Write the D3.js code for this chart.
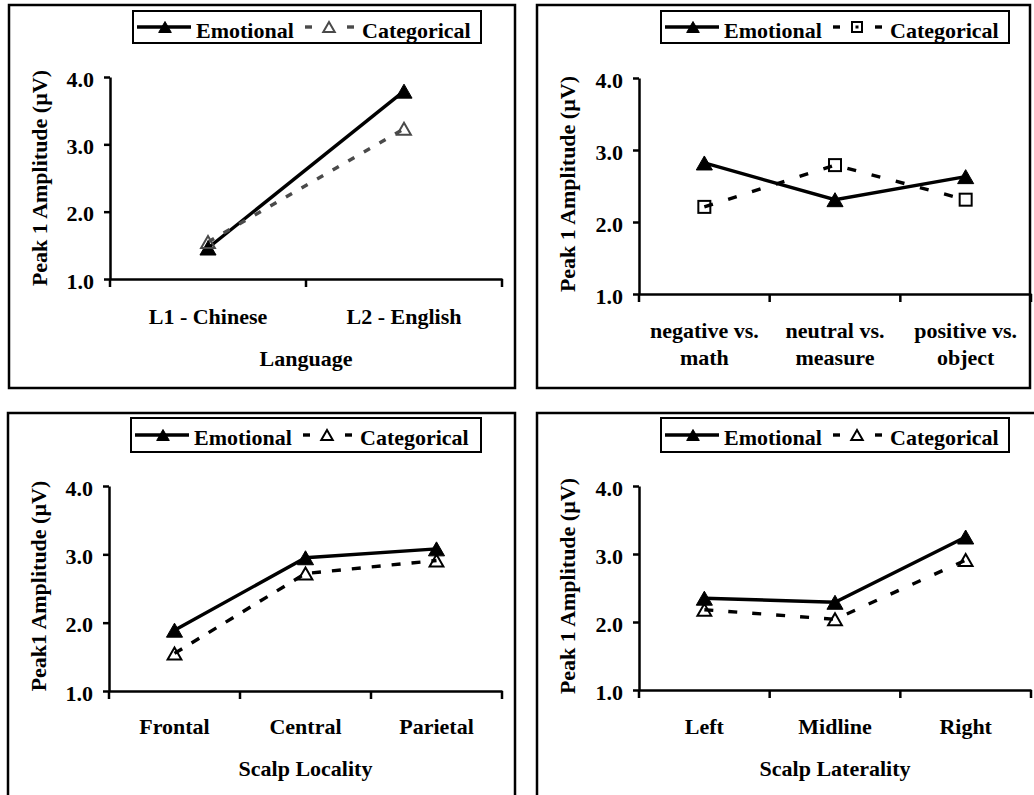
<!DOCTYPE html>
<html>
<head>
<meta charset="utf-8">
<script src="https://cdn.jsdelivr.net/npm/d3@7"></script>
<style>
  html, body { margin: 0; padding: 0; background: #fff; }
  svg { display: block; font-family: "Liberation Serif", "Times New Roman", serif; font-weight: bold; }
</style>
</head>
<body>
<svg id="chart" width="1034" height="795"></svg>
<script>
// Peak 1 amplitude (µV), emotional vs. categorical conditions
const languageCategories = ["L1 - Chinese", "L2 - English"];
const languageEmotional = [1.46, 3.79];
const languageCategorical = [1.55, 3.23];

const contrastCategories = ["negative vs.|math", "neutral vs.|measure", "positive vs.|object"];
const contrastEmotional = [2.82, 2.31, 2.63];
const contrastCategorical = [2.21, 2.79, 2.31];

const localityCategories = ["Frontal", "Central", "Parietal"];
const localityEmotional = [1.89, 2.95, 3.08];
const localityCategorical = [1.55, 2.72, 2.91];

const lateralityCategories = ["Left", "Midline", "Right"];
const lateralityEmotional = [2.35, 2.29, 3.25];
const lateralityCategorical = [2.18, 2.04, 2.91];

const amplitudeTicks = [1.0, 2.0, 3.0, 4.0];
const seriesNames = ["Emotional", "Categorical"];

const panels = [
  {
    cats: languageCategories, emo: languageEmotional, cat: languageCategorical,
    title: "Language", yTitle: "Peak 1 Amplitude (\u00B5V)", marker: "triangle",
    frame: [9, 5, 515, 388], x0: 110, x1: 502, yTop: 77, yBottom: 279,
    legend: [133, 11, 481, 43], yTitleX: 47, yTitleY: 178,
    tickBaseline: 324, titleBaseline: 366, catColor: "#4a4a4a", dash: "7,11"
  },
  {
    cats: contrastCategories, emo: contrastEmotional, cat: contrastCategorical,
    title: null, yTitle: "Peak 1 Amplitude (\u00B5V)", marker: "square",
    frame: [537, 5, 1030, 388], x0: 639, x1: 1031, yTop: 78, yBottom: 294,
    legend: [661, 11, 1009, 43], yTitleX: 575, yTitleY: 184,
    tickBaseline: 338, titleBaseline: null, catColor: "#000", dash: "9,16"
  },
  {
    cats: localityCategories, emo: localityEmotional, cat: localityCategorical,
    title: "Scalp Locality", yTitle: "Peak1 Amplitude (\u00B5V)", marker: "triangle",
    frame: [8, 413, 515, 820], x0: 109, x1: 502, yTop: 486, yBottom: 691,
    legend: [131, 418, 481, 452], yTitleX: 46, yTitleY: 586,
    tickBaseline: 734, titleBaseline: 776, catColor: "#000", dash: "9,11"
  },
  {
    cats: lateralityCategories, emo: lateralityEmotional, cat: lateralityCategorical,
    title: "Scalp Laterality", yTitle: "Peak 1 Amplitude (\u00B5V)", marker: "triangle",
    frame: [537, 413, 1050, 820], x0: 639, x1: 1031, yTop: 486, yBottom: 690,
    legend: [661, 418, 1009, 452], yTitleX: 575, yTitleY: 586,
    tickBaseline: 734, titleBaseline: 776, catColor: "#000", dash: "9,15"
  }
];

const FONT = 22;
const svg = d3.select("#chart");

// Triangle path centred on (cx, cy) by its bounding box
function trianglePath(cx, cy, w, h) {
  return `M${cx},${cy - h / 2}L${cx + w / 2},${cy + h / 2}L${cx - w / 2},${cy + h / 2}Z`;
}

function drawMarker(g, type, cx, cy, filled, color, size) {
  if (type === "square") {
    g.append("rect")
      .attr("x", cx - size / 2).attr("y", cy - size / 2)
      .attr("width", size).attr("height", size)
      .attr("fill", filled ? color : "none")
      .attr("stroke", color).attr("stroke-width", 2);
  } else {
    g.append("path")
      .attr("d", trianglePath(cx, cy, size * 1.15, size))
      .attr("fill", filled ? color : "none")
      .attr("stroke", color).attr("stroke-width", filled ? 1 : 2)
      .attr("stroke-linejoin", "miter");
  }
}

panels.forEach(p => {
  const g = svg.append("g");

  // panel frame
  const [fx0, fy0, fx1, fy1] = p.frame;
  g.append("rect")
    .attr("x", fx0).attr("y", fy0)
    .attr("width", fx1 - fx0).attr("height", fy1 - fy0)
    .attr("fill", "none").attr("stroke", "#000").attr("stroke-width", 2.5);

  const x = d3.scaleBand().domain(p.cats).range([p.x0, p.x1]).padding(0);
  const y = d3.scaleLinear().domain([1, 4]).range([p.yBottom, p.yTop]);
  const cx = c => x(c) + x.bandwidth() / 2;

  // y axis
  const yAxis = g.append("g")
    .attr("transform", `translate(${p.x0},0)`)
    .call(d3.axisLeft(y).tickValues(amplitudeTicks).tickFormat(d3.format(".1f"))
      .tickSize(6).tickSizeOuter(0).tickPadding(10))
    .attr("font-family", null).attr("font-size", FONT);
  yAxis.select(".domain").attr("stroke", "#000").attr("stroke-width", 2.5);
  yAxis.selectAll(".tick line").attr("stroke", "#000").attr("stroke-width", 2.5);
  yAxis.selectAll(".tick text").attr("fill", "#000").attr("dy", "0.42em");

  // x axis line with ticks at category boundaries
  const xAxis = g.append("g")
    .attr("transform", `translate(0,${p.yBottom})`)
    .call(d3.axisBottom(x).tickSize(0).tickSizeOuter(0).tickFormat(""));
  xAxis.select(".domain").attr("stroke", "#000").attr("stroke-width", 2.5);
  xAxis.selectAll(".tick").remove();
  const bounds = p.cats.map(c => x(c)).concat([p.x1]);
  xAxis.selectAll("line.bound").data(bounds).enter().append("line")
    .attr("class", "bound")
    .attr("x1", d => d).attr("x2", d => d)
    .attr("y1", 0).attr("y2", 8)
    .attr("stroke", "#000").attr("stroke-width", 2.5);

  // category labels (may span two lines)
  p.cats.forEach(c => {
    const lines = c.split("|");
    const t = g.append("text")
      .attr("x", cx(c)).attr("y", p.tickBaseline)
      .attr("text-anchor", "middle").attr("font-size", FONT).attr("fill", "#000");
    lines.forEach((ln, i) => {
      t.append("tspan").attr("x", cx(c)).attr("dy", i === 0 ? 0 : 27).text(ln);
    });
  });

  // axis titles
  if (p.title) {
    g.append("text")
      .attr("x", (p.x0 + p.x1) / 2).attr("y", p.titleBaseline)
      .attr("text-anchor", "middle").attr("font-size", FONT).attr("fill", "#000")
      .text(p.title);
  }
  g.append("text")
    .attr("transform", `translate(${p.yTitleX},${p.yTitleY}) rotate(-90)`)
    .attr("text-anchor", "middle").attr("font-size", 22).attr("fill", "#000")
    .text(p.yTitle);

  // series lines
  const line = d3.line().x((d, i) => cx(p.cats[i])).y(d => y(d));
  g.append("path").datum(p.emo).attr("d", line)
    .attr("fill", "none").attr("stroke", "#000").attr("stroke-width", 3.4);
  g.append("path").datum(p.cat).attr("d", line)
    .attr("fill", "none").attr("stroke", p.catColor).attr("stroke-width", 3.4)
    .attr("stroke-dasharray", p.dash);

  // markers
  p.emo.forEach((v, i) => drawMarker(g, "triangle", cx(p.cats[i]), y(v), true, "#000", 14));
  p.cat.forEach((v, i) => drawMarker(g, p.marker, cx(p.cats[i]), y(v), false, p.catColor, 12));

  // legend
  const [lx0, ly0, lx1, ly1] = p.legend;
  const lg = g.append("g");
  lg.append("rect")
    .attr("x", lx0).attr("y", ly0).attr("width", lx1 - lx0).attr("height", ly1 - ly0)
    .attr("fill", "#fff").attr("stroke", "#000").attr("stroke-width", 2);
  const lcy = (ly0 + ly1) / 2;
  const base = ly0 + 26.5;
  lg.append("line")
    .attr("x1", lx0 + 4).attr("x2", lx0 + 58).attr("y1", lcy).attr("y2", lcy)
    .attr("stroke", "#000").attr("stroke-width", 3.4);
  drawMarker(lg, "triangle", lx0 + 32, lcy, true, "#000", 11);
  lg.append("text").attr("x", lx0 + 63).attr("y", base)
    .attr("font-size", FONT).attr("fill", "#000").text(seriesNames[0]);
  [[172, 179], [214, 221]].forEach(([a, b]) => {
    lg.append("line")
      .attr("x1", lx0 + a).attr("x2", lx0 + b).attr("y1", lcy).attr("y2", lcy)
      .attr("stroke", p.catColor).attr("stroke-width", 3.4);
  });
  if (p.marker === "square") {
    lg.append("line")
      .attr("x1", lx0 + 194.5).attr("x2", lx0 + 197.5).attr("y1", lcy).attr("y2", lcy)
      .attr("stroke", p.catColor).attr("stroke-width", 3);
  }
  drawMarker(lg, p.marker, lx0 + 196, lcy, false, p.catColor, 10);
  lg.append("text").attr("x", lx0 + 229).attr("y", base)
    .attr("font-size", FONT).attr("fill", "#000").text(seriesNames[1]);
});
</script>
</body>
</html>
